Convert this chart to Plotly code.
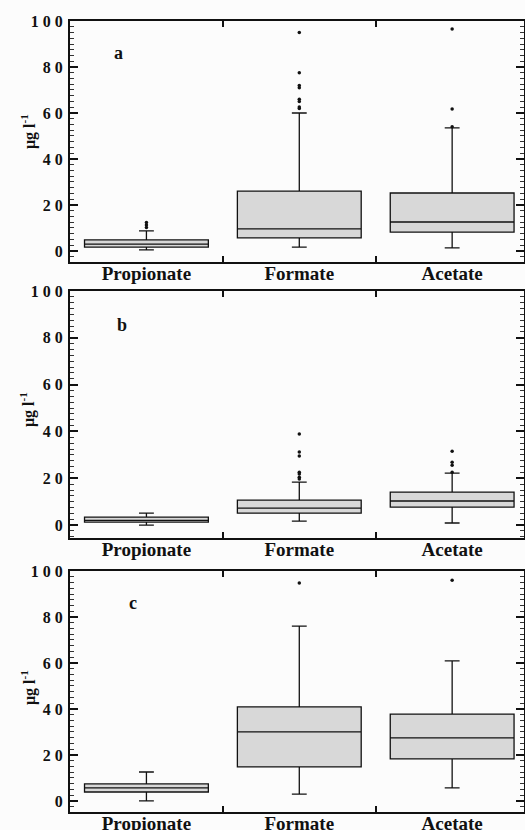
import plotly.graph_objects as go

categories = ["Propionate", "Formate", "Acetate"]
panel_labels = ["a", "b", "c"]

# Box statistics per panel (µg l-1): [Propionate, Formate, Acetate]
q1_a = [1.7, 5.7, 8.2]
med_a = [3.0, 9.6, 12.6]
q3_a = [4.8, 26.0, 25.2]
lo_a = [0.5, 1.7, 1.3]
hi_a = [8.7, 60.0, 53.5]
out_a = {
    "Propionate": [10.2, 11.3, 12.4],
    "Formate": [95.0, 77.5, 72.0, 71.0, 66.0, 65.0, 62.6, 62.0],
    "Acetate": [96.5, 61.7, 54.0],
}

q1_b = [1.3, 5.1, 7.7]
med_b = [2.0, 7.3, 10.3]
q3_b = [3.4, 10.7, 14.1]
lo_b = [0.0, 1.7, 0.9]
hi_b = [5.1, 18.4, 22.2]
out_b = {
    "Propionate": [],
    "Formate": [38.9, 31.2, 29.5, 22.6, 21.8, 20.5, 19.7],
    "Acetate": [31.6, 26.9, 25.6, 22.6],
}

q1_c = [3.9, 14.8, 18.3]
med_c = [5.7, 30.0, 27.4]
q3_c = [7.4, 40.9, 37.8]
lo_c = [0.0, 3.0, 5.7]
hi_c = [12.6, 76.0, 60.9]
out_c = {
    "Propionate": [],
    "Formate": [94.8],
    "Acetate": [96.0],
}

ytick_vals = [0, 20, 40, 60, 80, 100]
ytick_text = ["0", "2 0", "4 0", "6 0", "8 0", "1 0 0"]

panels = [
    (q1_a, med_a, q3_a, lo_a, hi_a, out_a),
    (q1_b, med_b, q3_b, lo_b, hi_b, out_b),
    (q1_c, med_c, q3_c, lo_c, hi_c, out_c),
]

W, H = 525, 830
# pixel frames (top, bottom) for each panel
frames = [(21, 262), (291, 538), (571, 812)]
yranges = [[-4.8, 100], [-5.5, 100], [-4.8, 100]]
ytitle_centers = [132, 410, 688]
label_pos = [(118, 53), (122, 325), (133, 603)]

SERIF = "Liberation Serif"

fig = go.Figure()
layout = dict(
    width=W, height=H,
    margin=dict(l=0, r=0, t=0, b=0, autoexpand=False),
    paper_bgcolor="#fcfcfc",
    plot_bgcolor="#fcfcfc",
    showlegend=False,
    annotations=[],
)

for i, (q1, med, q3, lo, hi, outs) in enumerate(panels):
    xa = "x" if i == 0 else f"x{i+1}"
    ya = "y" if i == 0 else f"y{i+1}"
    fig.add_trace(go.Box(
        x=categories, q1=q1, median=med, q3=q3,
        lowerfence=lo, upperfence=hi,
        fillcolor="#d8d8d8",
        line=dict(color="#111111", width=1.3),
        whiskerwidth=0.12, width=0.81,
        boxpoints=False,
        xaxis=xa, yaxis=ya, hoverinfo="skip",
    ))
    ox, oy = [], []
    for c in categories:
        for v in outs[c]:
            ox.append(c)
            oy.append(v)
    fig.add_trace(go.Scatter(
        x=ox, y=oy, mode="markers",
        marker=dict(color="#111111", size=3.5),
        xaxis=xa, yaxis=ya, hoverinfo="skip",
    ))

    top, bot = frames[i]
    ydom = [1 - bot / H, 1 - top / H]
    xkey = "xaxis" if i == 0 else f"xaxis{i+1}"
    ykey = "yaxis" if i == 0 else f"yaxis{i+1}"
    layout[xkey] = dict(
        domain=[70 / W, 524 / W],
        anchor=ya,
        type="category",
        categoryorder="array", categoryarray=categories,
        range=[-0.5, 2.47],
        tickson="boundaries",
        ticks="inside", ticklen=6, tickwidth=1.5, tickcolor="#111111",
        showline=True, linecolor="#111111", linewidth=2,
        mirror="ticks",
        showgrid=False, zeroline=False,
        automargin=False,
        ticklabelstandoff=-7,
        tickfont=dict(family=SERIF, size=19, color="#111111", weight="bold"),
        fixedrange=True,
    )
    layout[ykey] = dict(
        domain=ydom,
        anchor=xa,
        range=yranges[i],
        tickvals=ytick_vals, ticktext=ytick_text,
        ticks="inside", ticklen=8, tickwidth=1.5, tickcolor="#111111",
        minor=dict(dtick=2.5, tick0=0, ticks="inside", ticklen=4,
                   tickwidth=1, tickcolor="#333333", showgrid=False),
        showline=True, linecolor="#111111", linewidth=2,
        mirror="ticks",
        showgrid=False, zeroline=False,
        automargin=False,
        tickfont=dict(family=SERIF, size=16, color="#111111", weight="bold"),
        ticklabelstandoff=2,
        fixedrange=True,
    )
    layout["annotations"].append(dict(
        text="μg l<sup>-1</sup>", textangle=-90,
        xref="paper", yref="paper",
        x=28 / W, y=1 - ytitle_centers[i] / H,
        showarrow=False, xanchor="center", yanchor="middle",
        font=dict(family=SERIF, size=16, color="#111111", weight="bold"),
    ))
    lx, ly = label_pos[i]
    layout["annotations"].append(dict(
        text=panel_labels[i],
        xref="paper", yref="paper",
        x=lx / W, y=1 - ly / H,
        showarrow=False, xanchor="center", yanchor="middle",
        font=dict(family=SERIF, size=18, color="#111111", weight="bold"),
    ))

fig.update_layout(**layout)
fig.write_html(
    "out.html",
    config={"displayModeBar": False},
    post_script="document.body.style.margin='0';document.body.style.overflow='hidden';",
)
